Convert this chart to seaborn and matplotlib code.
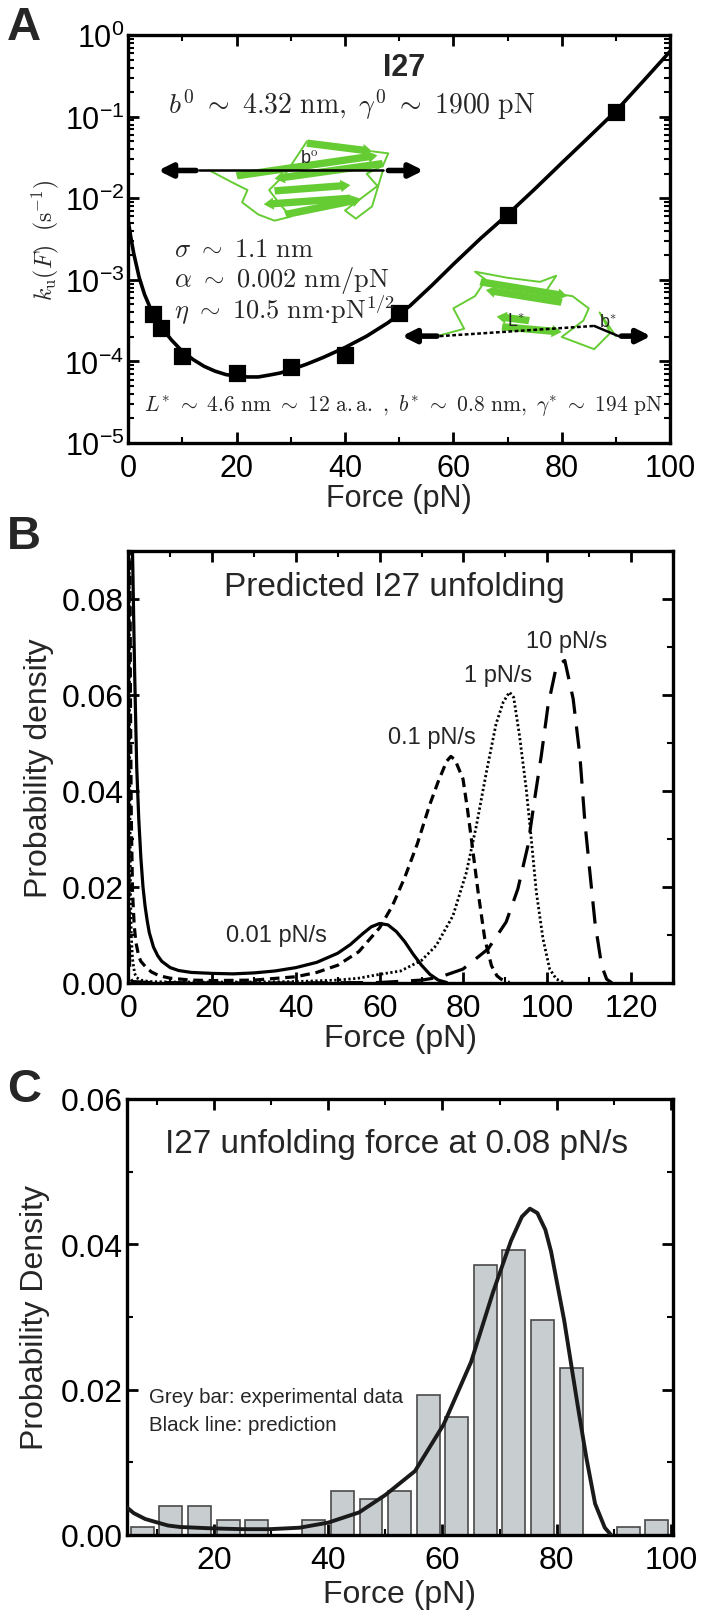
import numpy as np
import pandas as pd
import seaborn as sns
import matplotlib.pyplot as plt
from matplotlib.ticker import MultipleLocator, LogLocator, NullFormatter
from matplotlib.patches import FancyArrow

# ---------------- panel A data: unfolding rate vs force ----------------
a_force = [4.5, 6, 10, 20, 30, 40, 50, 70, 90]
a_rate = [3.8e-4, 2.6e-4, 1.17e-4, 7.2e-5, 8.6e-5, 1.2e-4, 3.9e-4, 6.3e-3, 1.15e-1]

a_curve_force = [0, 0.5, 1, 2, 3, 4, 5, 6, 7, 8, 10, 12, 14, 16, 18, 20, 22, 24,
                 26, 28, 30, 33, 36, 40, 44, 48, 52, 56, 60, 65, 70, 75, 80, 85,
                 90, 95, 100]
a_curve_rate = [5.2e-3, 3.2e-3, 2.1e-3, 1.07e-3, 6.6e-4, 4.6e-4, 3.5e-4, 2.7e-4,
                2.2e-4, 1.82e-4, 1.32e-4, 1.05e-4, 8.7e-5, 7.6e-5, 6.9e-5, 6.6e-5,
                6.45e-5, 6.45e-5, 6.8e-5, 7.2e-5, 7.9e-5, 9.3e-5, 1.12e-4, 1.48e-4,
                2.04e-4, 3.0e-4, 4.8e-4, 8.5e-4, 1.55e-3, 3.2e-3, 6.3e-3, 1.29e-2,
                2.7e-2, 5.6e-2, 1.17e-1, 2.7e-1, 6.3e-1]

# ---------------- panel B data: predicted unfolding force distributions ----------------
b_f_001 = [0.7, 1, 1.5, 2, 2.5, 3, 3.5, 4, 4.5, 5, 6, 7, 8, 10, 12, 15, 20, 25, 30,
           35, 40, 45, 50, 53, 56, 58, 60, 62, 64, 66, 68, 70, 72, 74, 76]
b_p_001 = [0.13, 0.09, 0.065, 0.045, 0.034, 0.026, 0.020, 0.016, 0.013, 0.0105,
           0.0075, 0.0057, 0.0045, 0.0032, 0.0026, 0.0022, 0.0020, 0.0019, 0.0021,
           0.0025, 0.0032, 0.0043, 0.0062, 0.0080, 0.0103, 0.0117, 0.0124, 0.0121,
           0.0107, 0.0086, 0.0060, 0.0037, 0.0018, 0.0006, 0.0001]

b_f_01 = [0.3, 0.5, 0.7, 1, 1.4, 1.8, 2.5, 3, 4.2, 5.5, 7.4, 10, 15, 20, 30, 40, 45,
          50, 55, 60, 63, 66, 69, 71.9, 74, 76, 77, 78, 79.9, 81, 81.9, 83.5, 85.1,
          86.7, 88, 89, 91]
b_p_01 = [0.12, 0.06, 0.035, 0.019, 0.012, 0.0085, 0.0055, 0.0045, 0.0033, 0.0023,
          0.0015, 0.0010, 0.0006, 0.0005, 0.0006, 0.0013, 0.0022, 0.0037, 0.0065,
          0.0115, 0.016, 0.022, 0.029, 0.037, 0.042, 0.0462, 0.0472, 0.0465,
          0.0425, 0.036, 0.030, 0.019, 0.0092, 0.0036, 0.0015, 0.0008, 0.0001]

b_f_1 = [0.15, 0.3, 0.5, 0.7, 1, 1.5, 2, 3, 5, 10, 20, 30, 40, 50, 55, 60, 65, 70,
         73.5, 77.5, 80.7, 83.1, 85.5, 87.8, 89.5, 91, 92, 93.4, 95, 96.2, 97.4, 99,
         100.6, 102.2, 104]
b_p_1 = [0.12, 0.05, 0.02, 0.01, 0.005, 0.002, 0.0011, 0.0006, 0.0003, 0.0002,
         0.0002, 0.0002, 0.0003, 0.0006, 0.0010, 0.0018, 0.0025, 0.0047, 0.0078,
         0.014, 0.023, 0.0328, 0.044, 0.054, 0.0585, 0.0606, 0.0595, 0.0515,
         0.0404, 0.030, 0.019, 0.0092, 0.0029, 0.0008, 0.0001]

b_f_10 = [0.1, 0.3, 0.6, 1, 5, 20, 40, 60, 70, 74.3, 79.9, 85.9, 90.2, 93, 95.4, 97,
          98.6, 100.2, 102.2, 104.2, 106.2, 107.8, 109, 110.2, 111.4, 113, 114.2,
          115.5]
b_p_10 = [0.03, 0.004, 0.0008, 0.0003, 0.0001, 0.0, 0.0, 0.0001, 0.0006, 0.0012,
          0.0029, 0.0071, 0.0127, 0.0196, 0.0286, 0.0383, 0.0474, 0.0578, 0.066,
          0.0672, 0.0592, 0.0474, 0.0335, 0.023, 0.0127, 0.0036, 0.0008, 0.0]

# ---------------- panel C data: histogram at 0.08 pN/s and prediction ----------------
c_bin_edges = [5, 10, 15, 20, 25, 30, 35, 40, 45, 50, 55, 60, 65, 70, 75, 80, 85, 90, 95, 100]
c_bin_centers = [7.5, 12.5, 17.5, 22.5, 27.5, 32.5, 37.5, 42.5, 47.5, 52.5, 57.5,
                 62.5, 67.5, 72.5, 77.5, 82.5, 87.5, 92.5, 97.5]
c_density = [0.0011, 0.004, 0.004, 0.002, 0.002, 0.0, 0.002, 0.006, 0.0049, 0.006,
             0.0192, 0.0163, 0.0372, 0.0392, 0.0296, 0.0230, 0.0, 0.0011, 0.002]

c_curve_force = [4.8, 6, 8, 10.2, 12, 14.1, 17, 20, 25, 29.8, 35, 40, 45.4, 50, 55.2,
                 60.2, 65, 68.8, 72, 73.9, 75.3, 76.6, 78, 79, 81.3, 83.7, 85.2, 86.7,
                 88.4, 89.5]
c_curve_dens = [0.0038, 0.0030, 0.0022, 0.0017, 0.0013, 0.0011, 0.0010, 0.0009,
                0.0008, 0.0008, 0.0010, 0.0017, 0.0031, 0.0055, 0.0088, 0.0152,
                0.0238, 0.0333, 0.0405, 0.0438, 0.0449, 0.0443, 0.042, 0.039, 0.0295,
                0.0176, 0.0105, 0.0043, 0.0010, 0.0]

sns.set_theme(style="ticks")
plt.rcParams['font.family'] = ['Liberation Sans', 'DejaVu Sans']
plt.rcParams['mathtext.fontset'] = 'cm'

fig = plt.figure(figsize=(7.09, 16.24), dpi=100)
axA = fig.add_axes([0.181, 0.7266, 0.764, 0.2512])
axB = fig.add_axes([0.181, 0.3941, 0.768, 0.2660])
axC = fig.add_axes([0.179, 0.0542, 0.770, 0.2685])


def style_axes(ax, size):
    for s in ax.spines.values():
        s.set_linewidth(2.4)
        s.set_color('black')
    ax.tick_params(which='both', direction='in', top=True, right=True,
                   colors='black', labelsize=size, pad=7)
    ax.tick_params(which='major', length=8, width=2)
    ax.tick_params(which='minor', length=4, width=1.5)


# ---------------- A ----------------
sns.lineplot(x=a_curve_force, y=a_curve_rate, ax=axA, color='black', lw=2.6)
sns.scatterplot(x=a_force, y=a_rate, ax=axA, marker='s', s=120, color='black',
                edgecolor='black', zorder=3)
axA.set_yscale('log')
axA.set_xlim(0, 100)
axA.set_ylim(1e-5, 1)
axA.set_xticks([0, 20, 40, 60, 80, 100])
axA.xaxis.set_minor_locator(MultipleLocator(10))
decades = [-5, -4, -3, -2, -1, 0]
axA.set_yticks([10.0 ** d for d in decades],
               [r'$\mathregular{10^{%d}}$' % d for d in decades])
axA.yaxis.set_minor_locator(LogLocator(base=10, subs=np.arange(2, 10), numticks=20))
axA.yaxis.set_minor_formatter(NullFormatter())
style_axes(axA, 22)
axA.tick_params(axis='y', pad=3)
axA.set_xlabel('Force (pN)', fontsize=22, labelpad=0)
axA.set_ylabel(r'$k_\mathrm{u}(F)\ \ (\mathrm{s}^{-1})$', fontsize=17, labelpad=2)

tA = axA.transAxes
axA.text(0.51, 0.922, 'I27', transform=tA, ha='center', va='center',
         fontsize=22, fontweight='bold')
axA.text(0.413, 0.832,
         r'$b^0\ \sim\ 4.32\ \mathrm{nm},\ \gamma^0\ \sim\ 1900\ \mathrm{pN}$',
         transform=tA, ha='center', va='center', fontsize=20)
axA.text(0.085, 0.476, r'$\sigma\ \sim\ 1.1\ \mathrm{nm}$', transform=tA,
         ha='left', va='center', fontsize=19)
axA.text(0.085, 0.402, r'$\alpha\ \sim\ 0.002\ \mathrm{nm/pN}$', transform=tA,
         ha='left', va='center', fontsize=19)
axA.text(0.085, 0.330, r'$\eta\ \sim\ 10.5\ \mathrm{nm{\cdot}pN}^{1/2}$', transform=tA,
         ha='left', va='center', fontsize=19)
axA.text(0.508, 0.094,
         r'$L^{*}\ \sim\ 4.6\ \mathrm{nm}\ \sim\ 12\ \mathrm{a.a.}\ ,\ b^{*}\ \sim\ 0.8\ \mathrm{nm},\ \gamma^{*}\ \sim\ 194\ \mathrm{pN}$',
         transform=tA, ha='center', va='center', fontsize=15.5)

# schematic protein sketches (decoration only)
green = '#66cc33'


def strand(ax, x0, y0, x1, y1):
    ax.add_patch(FancyArrow(x0, y0, x1 - x0, y1 - y0, width=0.018, head_width=0.03,
                            head_length=0.018, length_includes_head=True,
                            transform=ax.transAxes, color=green, lw=0, zorder=2))


for seg in [(0.20, 0.655, 0.46, 0.705), (0.47, 0.685, 0.27, 0.648),
            (0.27, 0.618, 0.41, 0.632), (0.41, 0.600, 0.25, 0.585),
            (0.29, 0.560, 0.43, 0.598), (0.33, 0.735, 0.45, 0.715)]:
    strand(axA, *seg)
axA.plot([0.15, 0.19, 0.22, 0.21, 0.24, 0.27, 0.30, 0.28, 0.26, 0.29, 0.33],
         [0.668, 0.64, 0.62, 0.59, 0.56, 0.545, 0.555, 0.585, 0.62, 0.66, 0.74],
         transform=tA, color=green, lw=1.4, zorder=2)
axA.plot([0.45, 0.48, 0.47, 0.44, 0.46, 0.43, 0.40, 0.42, 0.45, 0.47],
         [0.715, 0.71, 0.68, 0.66, 0.63, 0.60, 0.57, 0.55, 0.58, 0.668],
         transform=tA, color=green, lw=1.4, zorder=2)
axA.plot([0.13, 0.47], [0.668, 0.668], transform=tA, color='black', lw=1.8, zorder=3)
arr = dict(arrowstyle='-|>', lw=4, color='black', mutation_scale=20)
axA.annotate('', xy=(0.05, 0.668), xytext=(0.13, 0.668), xycoords='axes fraction',
             textcoords='axes fraction', arrowprops=arr)
axA.annotate('', xy=(0.55, 0.668), xytext=(0.475, 0.668), xycoords='axes fraction',
             textcoords='axes fraction', arrowprops=arr)
axA.text(0.335, 0.70, r'b$^{\mathrm{o}}$', transform=tA, fontsize=13, ha='center',
         va='center', zorder=4)

for seg in [(0.65, 0.395, 0.81, 0.36), (0.80, 0.345, 0.66, 0.375),
            (0.69, 0.285, 0.80, 0.272), (0.74, 0.30, 0.68, 0.31)]:
    strand(axA, *seg)
axA.plot([0.57, 0.62, 0.60, 0.64, 0.66, 0.64, 0.70, 0.76, 0.79, 0.77, 0.82, 0.85,
          0.84, 0.80, 0.86, 0.89, 0.87, 0.90],
         [0.262, 0.28, 0.33, 0.36, 0.40, 0.42, 0.405, 0.395, 0.41, 0.37, 0.36, 0.33,
          0.30, 0.26, 0.23, 0.27, 0.32, 0.262],
         transform=tA, color=green, lw=1.4, zorder=2)
axA.plot([0.575, 0.86], [0.262, 0.287], transform=tA, color='black', lw=1.8,
         ls=(0, (1.5, 1.0)), zorder=3)
axA.plot([0.86, 0.905], [0.287, 0.262], transform=tA, color='black', lw=1.8, zorder=3)
axA.annotate('', xy=(0.50, 0.262), xytext=(0.575, 0.262), xycoords='axes fraction',
             textcoords='axes fraction', arrowprops=arr)
axA.annotate('', xy=(0.97, 0.262), xytext=(0.905, 0.262), xycoords='axes fraction',
             textcoords='axes fraction', arrowprops=arr)
axA.text(0.715, 0.300, r'L$^{*}$', transform=tA, fontsize=13, ha='center', va='center', zorder=4)
axA.text(0.885, 0.297, r'b$^{*}$', transform=tA, fontsize=13, ha='center', va='center', zorder=4)

# ---------------- B ----------------
sns.lineplot(x=b_f_001, y=b_p_001, ax=axB, color='black', lw=2.3)
sns.lineplot(x=b_f_01, y=b_p_01, ax=axB, color='black', lw=2.3, linestyle=(0, (3, 1.8)))
sns.lineplot(x=b_f_1, y=b_p_1, ax=axB, color='black', lw=2.0, linestyle=(0, (0.8, 0.9)))
sns.lineplot(x=b_f_10, y=b_p_10, ax=axB, color='black', lw=2.3, linestyle=(0, (7, 4)))
axB.set_xlim(0, 130)
axB.set_ylim(0, 0.09)
axB.set_xticks([0, 20, 40, 60, 80, 100, 120])
axB.xaxis.set_minor_locator(MultipleLocator(10))
axB.set_yticks([0, 0.02, 0.04, 0.06, 0.08], ['0.00', '0.02', '0.04', '0.06', '0.08'])
axB.yaxis.set_minor_locator(MultipleLocator(0.01))
style_axes(axB, 23)
axB.tick_params(axis='y', pad=3)
axB.set_xlabel('Force (pN)', fontsize=23, labelpad=0)
axB.set_ylabel('Probability density', fontsize=23, labelpad=6)
axB.text(63.6, 0.0825, 'Predicted I27 unfolding', ha='center', va='center', fontsize=24)
axB.text(104.6, 0.0712, '10 pN/s', ha='center', va='center', fontsize=17)
axB.text(88.2, 0.0642, '1 pN/s', ha='center', va='center', fontsize=17)
axB.text(72.4, 0.0512, '0.1 pN/s', ha='center', va='center', fontsize=17)
axB.text(35.4, 0.0099, '0.01 pN/s', ha='center', va='center', fontsize=17)

# ---------------- C ----------------
sns.histplot(x=c_bin_centers, weights=c_density, bins=c_bin_edges, shrink=0.8,
             stat='count', color='#c8cdd0', edgecolor='#4a4a4a', linewidth=1.2,
             alpha=1, ax=axC)
sns.lineplot(x=c_curve_force, y=c_curve_dens, ax=axC, color='#1a1a1a', lw=2.8, zorder=4)
axC.set_xlim(4.8, 100.3)
axC.set_ylim(0, 0.06)
axC.set_xticks([20, 40, 60, 80, 100])
axC.xaxis.set_minor_locator(MultipleLocator(10))
axC.set_yticks([0, 0.02, 0.04, 0.06], ['0.00', '0.02', '0.04', '0.06'])
axC.yaxis.set_minor_locator(MultipleLocator(0.01))
style_axes(axC, 23)
axC.tick_params(axis='y', pad=3)
axC.set_xlabel('Force (pN)', fontsize=23, labelpad=3)
axC.set_ylabel('Probability Density', fontsize=23, labelpad=8)
axC.text(52, 0.0538, 'I27 unfolding force at 0.08 pN/s', ha='center', va='center', fontsize=24)
axC.text(8.7, 0.0190, 'Grey bar: experimental data', ha='left', va='center', fontsize=14.8)
axC.text(8.7, 0.0152, 'Black line: prediction', ha='left', va='center', fontsize=14.8)

# panel letters
for letter, ypix in [('A', 28), ('B', 537), ('C', 1090)]:
    fig.text(0.034, 1 - ypix / 1624, letter, fontsize=34, fontweight='bold',
             ha='center', va='center')

fig.savefig('out.png', dpi=100)
